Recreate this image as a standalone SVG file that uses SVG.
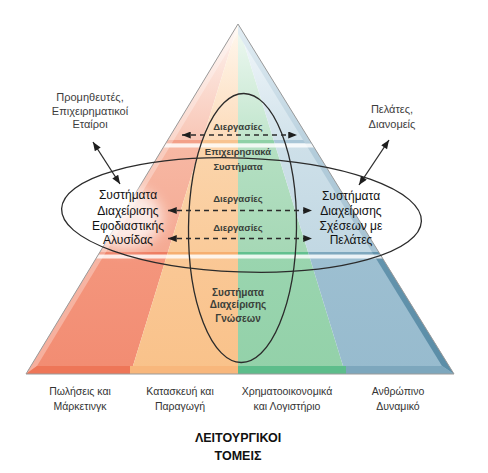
<svg xmlns="http://www.w3.org/2000/svg" width="488" height="473" viewBox="0 0 488 473">
<style>
  .t { font-family: "Liberation Sans", Arial, sans-serif; text-anchor: middle; }
  .side { font-size: 12px; fill: #111; }
  .ext { font-size: 11px; fill: #3d3d3d; }
  .area { font-size: 10.5px; fill: #333; }
  .inner { font-size: 9.5px; font-weight: bold; fill: #3a3f3a; }
  .km { font-size: 10px; font-weight: bold; fill: #3a3f3a; }
  .title { font-size: 12.5px; font-weight: bold; fill: #111; }
  .oval { fill: none; stroke: #2b2b2b; stroke-width: 1.3; }
  .dash { stroke: #2b2b2b; stroke-width: 1.3; stroke-dasharray: 5 4; fill: none; }
  .solid { stroke: #2b2b2b; stroke-width: 1.3; fill: none; }
</style>
<defs>
  <linearGradient id="gRed" gradientUnits="userSpaceOnUse" x1="0" y1="24" x2="0" y2="374">
    <stop offset="0" stop-color="#FEF4F0"/>
    <stop offset="0.331" stop-color="#F8C6B6"/>
    <stop offset="0.331" stop-color="#F3A089"/>
    <stop offset="0.34" stop-color="#F3A089"/>
    <stop offset="0.34" stop-color="#F7B8A4"/>
    <stop offset="0.651" stop-color="#F5AA93"/>
    <stop offset="0.651" stop-color="#EE7D62"/>
    <stop offset="0.66" stop-color="#EE7D62"/>
    <stop offset="0.66" stop-color="#F4967D"/>
    <stop offset="1" stop-color="#F28C72"/>
  </linearGradient>
  <linearGradient id="gOra" gradientUnits="userSpaceOnUse" x1="0" y1="24" x2="0" y2="374">
    <stop offset="0" stop-color="#FFF8EF"/>
    <stop offset="0.331" stop-color="#FCDBBA"/>
    <stop offset="0.331" stop-color="#F8C390"/>
    <stop offset="0.34" stop-color="#F8C390"/>
    <stop offset="0.34" stop-color="#FBD5AC"/>
    <stop offset="0.651" stop-color="#FACB9A"/>
    <stop offset="0.651" stop-color="#F6AF70"/>
    <stop offset="0.66" stop-color="#F6AF70"/>
    <stop offset="0.66" stop-color="#FAC896"/>
    <stop offset="1" stop-color="#F9C28A"/>
  </linearGradient>
  <linearGradient id="gGrn" gradientUnits="userSpaceOnUse" x1="0" y1="24" x2="0" y2="374">
    <stop offset="0" stop-color="#F0F9F3"/>
    <stop offset="0.331" stop-color="#C0E5CC"/>
    <stop offset="0.331" stop-color="#8FD1A7"/>
    <stop offset="0.34" stop-color="#8FD1A7"/>
    <stop offset="0.34" stop-color="#B5E0C3"/>
    <stop offset="0.651" stop-color="#A6D8B6"/>
    <stop offset="0.651" stop-color="#63C08F"/>
    <stop offset="0.66" stop-color="#63C08F"/>
    <stop offset="0.66" stop-color="#9AD5AF"/>
    <stop offset="1" stop-color="#93D1A9"/>
  </linearGradient>
  <linearGradient id="gBlu" gradientUnits="userSpaceOnUse" x1="0" y1="24" x2="0" y2="374">
    <stop offset="0" stop-color="#F3F8FB"/>
    <stop offset="0.331" stop-color="#D1E2EB"/>
    <stop offset="0.331" stop-color="#A9C6D7"/>
    <stop offset="0.34" stop-color="#A9C6D7"/>
    <stop offset="0.34" stop-color="#CEE0E9"/>
    <stop offset="0.651" stop-color="#C2D8E3"/>
    <stop offset="0.651" stop-color="#7FA8BE"/>
    <stop offset="0.66" stop-color="#7FA8BE"/>
    <stop offset="0.66" stop-color="#9DBFD1"/>
    <stop offset="1" stop-color="#97BBCE"/>
  </linearGradient>
  <linearGradient id="gBev" gradientUnits="userSpaceOnUse" x1="0" y1="24" x2="0" y2="374">
    <stop offset="0" stop-color="#E3EEF4"/>
    <stop offset="0.331" stop-color="#BBD2DF"/>
    <stop offset="0.34" stop-color="#B4CDDB"/>
    <stop offset="0.651" stop-color="#A6C3D3"/>
    <stop offset="0.651" stop-color="#6494AD"/>
    <stop offset="1" stop-color="#5A8DA7"/>
  </linearGradient>
  <linearGradient id="gBase" gradientUnits="userSpaceOnUse" x1="26" y1="0" x2="454" y2="0">
    <stop offset="0" stop-color="#EE7658"/>
    <stop offset="0.244" stop-color="#EE7658"/>
    <stop offset="0.244" stop-color="#F8B77C"/>
    <stop offset="0.4953" stop-color="#F8B77C"/>
    <stop offset="0.4953" stop-color="#5DBD8B"/>
    <stop offset="0.7465" stop-color="#5DBD8B"/>
    <stop offset="0.7465" stop-color="#7DA7BD"/>
    <stop offset="1" stop-color="#7DA7BD"/>
  </linearGradient>
  <clipPath id="tri"><polygon points="238,24 26,374 454,374"/></clipPath>
  <filter id="blur" x="-50%" y="-50%" width="200%" height="200%"><feGaussianBlur stdDeviation="7"/></filter>
  <marker id="ah" viewBox="0 0 10 8" refX="10" refY="4" markerUnits="userSpaceOnUse" markerWidth="10" markerHeight="7" orient="auto-start-reverse">
    <path d="M0,0 L10,4 L0,8 z" fill="#1e1e1e"/>
  </marker>
</defs>

<g id="pyramid">
  <polygon points="238,24 26,374 130.5,374" fill="url(#gRed)"/>
  <polygon points="238,24 130.5,374 238,374" fill="url(#gOra)"/>
  <polygon points="238,24 238,374 345.5,374" fill="url(#gGrn)"/>
  <polygon points="238,24 345.5,374 454,374" fill="url(#gBlu)"/>
  <polygon points="238,24 26,374 37,366 238,34" fill="#ffffff" opacity="0.3"/>
  <polygon points="238,24 238,34 442,366 454,374" fill="url(#gBev)"/>
  <polygon points="37,366 442,366 454,374 26,374" fill="url(#gBase)"/>
  <g clip-path="url(#tri)" fill="#ffffff">
    <rect x="20" y="143.5" width="440" height="4" opacity="0.8"/>
    <rect x="20" y="254.5" width="440" height="4" opacity="0.8"/>
  </g>
  <polygon points="238,24 26,374 454,374" fill="none" stroke="#9a9a9a" stroke-width="1"/>
  <ellipse cx="124" cy="218" rx="38" ry="30" fill="#ffffff" opacity="0.75" filter="url(#blur)"/>
</g>

<g id="connectors">
  <ellipse class="oval" cx="242.5" cy="228" rx="54" ry="134.5" transform="rotate(0.6 242.5 228)"/>
  <ellipse class="oval" cx="241.5" cy="215" rx="180" ry="57" transform="rotate(2 241.5 215)"/>
  <line class="dash" x1="182" y1="135" x2="297" y2="135" marker-start="url(#ah)" marker-end="url(#ah)"/>
  <line class="dash" x1="168" y1="210.5" x2="312" y2="210.5" marker-start="url(#ah)" marker-end="url(#ah)"/>
  <line class="dash" x1="168" y1="238.5" x2="312" y2="238.5" marker-start="url(#ah)" marker-end="url(#ah)"/>
  <line class="solid" x1="93" y1="142" x2="120" y2="184" marker-start="url(#ah)" marker-end="url(#ah)"/>
  <line class="solid" x1="389" y1="140" x2="359" y2="185" marker-start="url(#ah)" marker-end="url(#ah)"/>
</g>

<g id="suppliers">
  <text class="t ext" x="90" y="101">Προμηθευτές,</text>
  <text class="t ext" x="90" y="114.5">Επιχειρηματικοί</text>
  <text class="t ext" x="90" y="128">Εταίροι</text>
</g>
<g id="customers">
  <text class="t ext" x="392" y="112.5">Πελάτες,</text>
  <text class="t ext" x="392" y="127.5">Διανομείς</text>
</g>
<g id="scm">
  <text class="t side" x="128" y="199">Συστήματα</text>
  <text class="t side" x="128" y="214.5">Διαχείρισης</text>
  <text class="t side" x="128" y="229.5">Εφοδιαστικής</text>
  <text class="t side" x="128" y="244">Αλυσίδας</text>
</g>
<g id="crm">
  <text class="t side" x="351" y="200">Συστήματα</text>
  <text class="t side" x="351" y="215">Διαχείρισης</text>
  <text class="t side" x="351" y="230">Σχέσεων με</text>
  <text class="t side" x="351" y="244">Πελάτες</text>
</g>
<g id="processes">
  <text class="t inner" x="238" y="130">Διεργασίες</text>
  <text class="t inner" x="238" y="202">Διεργασίες</text>
  <text class="t inner" x="238" y="231">Διεργασίες</text>
</g>
<g id="erp">
  <text class="t inner" x="238" y="154.5">Επιχειρησιακά</text>
  <text class="t inner" x="238" y="169.5">Συστήματα</text>
</g>
<g id="km">
  <text class="t km" x="238" y="296">Συστήματα</text>
  <text class="t km" x="238" y="307.5">Διαχείρισης</text>
  <text class="t km" x="238" y="322">Γνώσεων</text>
</g>
<g id="areas">
  <text class="t area" x="80" y="395">Πωλήσεις και</text>
  <text class="t area" x="80" y="410">Μάρκετινγκ</text>
  <text class="t area" x="180" y="395">Κατασκευή και</text>
  <text class="t area" x="180" y="410">Παραγωγή</text>
  <text class="t area" x="287" y="395">Χρηματοοικονομικά</text>
  <text class="t area" x="287" y="410">και Λογιστήριο</text>
  <text class="t area" x="398" y="395">Ανθρώπινο</text>
  <text class="t area" x="398" y="410">Δυναμικό</text>
</g>
<g id="title">
  <text class="t title" x="238" y="442">ΛΕΙΤΟΥΡΓΙΚΟΙ</text>
  <text class="t title" x="238" y="460">ΤΟΜΕΙΣ</text>
</g>
</svg>
